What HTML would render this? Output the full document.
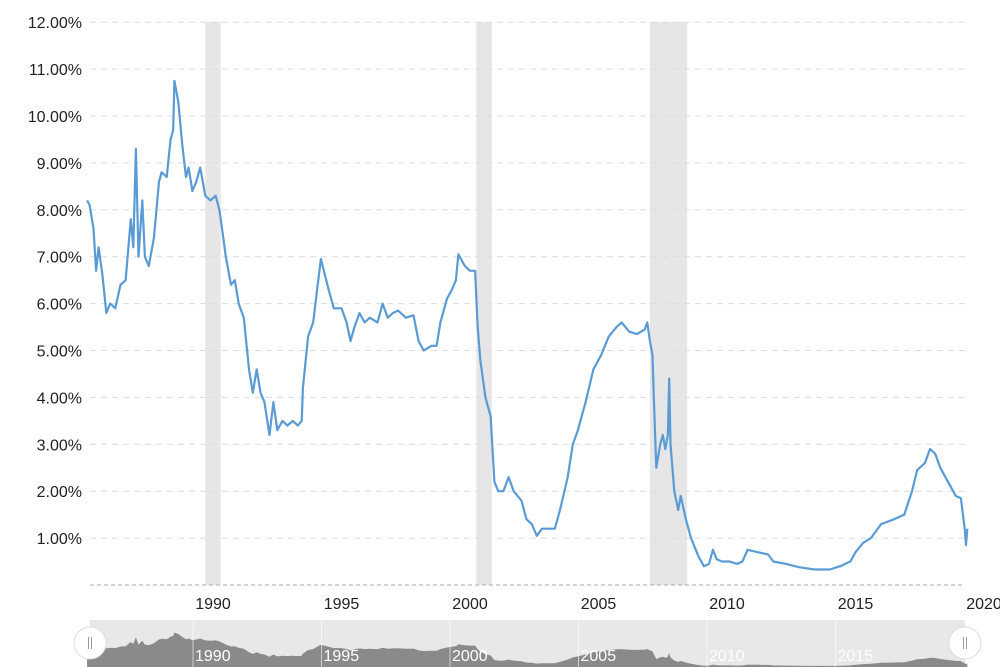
<!DOCTYPE html>
<html><head><meta charset="utf-8"><style>
body{margin:0;background:#fff;}
svg{display:block;font-family:"Liberation Sans",sans-serif;}
</style></head><body>
<svg id="c" width="1000" height="667"></svg>
<script>
const years=[1985.1,1985.2,1985.35,1985.45,1985.55,1985.7,1985.85,1986.0,1986.2,1986.4,1986.6,1986.8,1986.9,1987.0,1987.1,1987.25,1987.35,1987.5,1987.7,1987.9,1988.0,1988.2,1988.35,1988.45,1988.5,1988.65,1988.8,1988.95,1989.05,1989.2,1989.35,1989.5,1989.7,1989.9,1990.1,1990.25,1990.4,1990.5,1990.7,1990.85,1991.0,1991.2,1991.4,1991.55,1991.7,1991.85,1992.0,1992.2,1992.35,1992.5,1992.7,1992.9,1993.1,1993.3,1993.45,1993.5,1993.7,1993.9,1994.05,1994.2,1994.5,1994.7,1995.0,1995.2,1995.35,1995.5,1995.7,1995.9,1996.1,1996.4,1996.6,1996.8,1997.0,1997.2,1997.5,1997.8,1998.0,1998.2,1998.5,1998.7,1998.85,1999.1,1999.3,1999.45,1999.55,1999.8,2000.0,2000.2,2000.3,2000.4,2000.6,2000.8,2000.95,2001.1,2001.3,2001.5,2001.7,2002.0,2002.2,2002.4,2002.6,2002.8,2003.0,2003.3,2003.5,2003.8,2004.0,2004.2,2004.5,2004.8,2005.1,2005.4,2005.7,2005.9,2006.2,2006.5,2006.8,2006.9,2007.0,2007.1,2007.15,2007.25,2007.4,2007.5,2007.6,2007.7,2007.75,2007.8,2007.95,2008.1,2008.2,2008.4,2008.6,2008.9,2009.1,2009.3,2009.45,2009.6,2009.8,2010.1,2010.4,2010.6,2010.8,2011.2,2011.6,2011.8,2012.3,2012.8,2013.4,2014.0,2014.4,2014.8,2015.0,2015.3,2015.6,2016.0,2016.5,2016.9,2017.2,2017.4,2017.7,2017.9,2018.1,2018.3,2018.6,2018.9,2019.1,2019.25,2019.3,2019.35];
const rates=[8.2,8.1,7.6,6.7,7.2,6.6,5.8,6.0,5.9,6.4,6.5,7.8,7.2,9.3,7.0,8.2,7.0,6.8,7.4,8.6,8.8,8.7,9.5,9.7,10.75,10.3,9.4,8.7,8.9,8.4,8.6,8.9,8.3,8.2,8.3,8.0,7.4,7.0,6.4,6.5,6.0,5.7,4.6,4.1,4.6,4.1,3.9,3.2,3.9,3.3,3.5,3.4,3.5,3.4,3.5,4.2,5.3,5.6,6.3,6.95,6.3,5.9,5.9,5.6,5.2,5.5,5.8,5.6,5.7,5.6,6.0,5.7,5.8,5.85,5.7,5.75,5.2,5.0,5.1,5.1,5.6,6.1,6.3,6.5,7.05,6.8,6.7,6.7,5.5,4.8,4.0,3.6,2.2,2.0,2.0,2.3,2.0,1.8,1.4,1.3,1.05,1.2,1.2,1.2,1.6,2.3,3.0,3.3,3.9,4.6,4.9,5.3,5.5,5.6,5.4,5.35,5.45,5.6,5.2,4.9,4.0,2.5,3.0,3.2,2.9,3.2,4.4,3.0,2.0,1.6,1.9,1.4,1.0,0.6,0.4,0.45,0.75,0.55,0.5,0.5,0.45,0.5,0.75,0.7,0.65,0.5,0.45,0.38,0.33,0.33,0.4,0.5,0.7,0.9,1.0,1.3,1.4,1.5,2.0,2.45,2.6,2.9,2.8,2.5,2.2,1.9,1.85,1.2,0.85,1.2];
const yTicks=["1.00%","2.00%","3.00%","4.00%","5.00%","6.00%","7.00%","8.00%","9.00%","10.00%","11.00%","12.00%"];
const xTicks=[1990,1995,2000,2005,2010,2015,2020];
const recStart=[1989.7,2000.25,2007.0];
const recEnd=[1990.3,2000.85,2008.45];
const NS="http://www.w3.org/2000/svg";
const svg=document.getElementById('c');
const X=y=>213+(y-1990)*25.7;
const Y=v=>585-v*46.9;
const NY=v=>667-v*3.2;
function mk(t,a,p){const e=document.createElementNS(NS,t);for(const k in a)e.setAttribute(k,a[k]);(p||svg).appendChild(e);return e;}
recStart.forEach((s,i)=>{const r=mk('rect',{x:X(s),y:22,width:X(recEnd[i])-X(s),height:563,fill:'#e6e6e6'});

});
yTicks.forEach((t,i)=>{const v=i+1;
const l=mk('line',{x1:90,x2:965,y1:Y(v),y2:Y(v),stroke:'#dcdcdc','stroke-dasharray':'6,5'});


const tx=mk('text',{x:82,y:Y(v)+6,'text-anchor':'end','font-size':16,fill:'#222'});tx.textContent=t;

});
const base=mk('line',{x1:90,x2:965,y1:585,y2:585,stroke:'#aaa','stroke-dasharray':'4,3'});


xTicks.forEach(t=>{const tx=mk('text',{x:X(t),y:609,'text-anchor':'middle','font-size':16,fill:'#222'});tx.textContent=t;

});
let d=years.map((y,i)=>(i?'L':'M')+X(y).toFixed(1)+','+Y(rates[i]).toFixed(1)).join('');
const ln=mk('path',{d:d,fill:'none',stroke:'#5b9bd5','stroke-width':2.2,'stroke-linejoin':'round'});


// navigator
const nb=mk('rect',{x:90,y:620,width:875,height:47,fill:'#e8e8e8'});


let nd='M'+X(years[0])+',667'+years.map((y,i)=>'L'+X(y).toFixed(1)+','+NY(rates[i]).toFixed(1)).join('')+'L'+X(years[years.length-1])+',667Z';
const na=mk('path',{d:nd,fill:'#8a8a8a'});


xTicks.slice(0,6).forEach(t=>{const l=mk('line',{x1:X(t)-20,x2:X(t)-20,y1:620,y2:667,stroke:'#fff','stroke-opacity':0.6});


const tx=mk('text',{x:X(t)-18,y:661,'font-size':16,fill:'#fff'});tx.textContent=t;

});
[90,965].forEach(cx=>{const h=mk('circle',{cx:cx,cy:643,r:16,fill:'#fff',stroke:'#ddd'});


mk('line',{x1:cx-1.5,x2:cx-1.5,y1:637,y2:649,stroke:'#999'});mk('line',{x1:cx+1.5,x2:cx+1.5,y1:637,y2:649,stroke:'#999'});});
</script>
</body></html>
